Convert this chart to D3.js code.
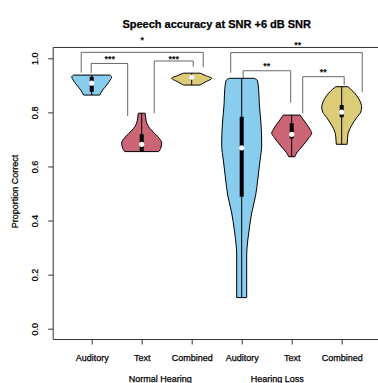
<!DOCTYPE html>
<html>
<head>
<meta charset="utf-8">
<script src="https://cdn.jsdelivr.net/npm/d3@7"></script>
<style>
  html, body { margin: 0; padding: 0; background: #fff; }
  svg { display: block; }
  text { font-family: "Liberation Sans", Arial, Helvetica, sans-serif; fill: #000; }
  .heavy { stroke: #000; stroke-width: 0.25px; }
</style>
</head>
<body>
<svg id="chart" width="378" height="383"></svg>
<script>
// ---- data ----
const title = "Speech accuracy at SNR +6 dB SNR";
const yAxisTitle = "Proportion Correct";
const categories = ["Auditory", "Text", "Combined", "Auditory", "Text", "Combined"];
const categoryKinds = ["aud", "txt", "comb", "aud", "txt", "comb"];
const groupNames = ["Normal Hearing", "Hearing Loss"];
const yTicks = [0.0, 0.2, 0.4, 0.6, 0.8, 1.0];

// kernel density profiles: [proportion correct, relative density]
const nhAuditoryDensity = [[0.938, 0.9], [0.931, 1.0], [0.920, 0.93], [0.901, 0.75], [0.883, 0.55], [0.864, 0.4]];
const nhTextDensity = [[0.797, 0.17], [0.781, 0.2], [0.761, 0.25], [0.753, 0.3], [0.741, 0.4], [0.722, 0.65],
                       [0.702, 0.9], [0.687, 1.0], [0.672, 0.97], [0.662, 0.92], [0.655, 0.85]];
const nhCombinedDensity = [[0.945, 0.42], [0.936, 0.7], [0.926, 1.0], [0.914, 0.72], [0.901, 0.42]];
const hlAuditoryDensity = [[0.926, 0.62], [0.918, 0.78], [0.883, 0.85], [0.831, 0.88], [0.753, 0.97], [0.679, 1.0],
                           [0.624, 0.92], [0.550, 0.8], [0.494, 0.7], [0.428, 0.5], [0.365, 0.37], [0.302, 0.27],
                           [0.273, 0.25], [0.115, 0.25]];
const hlTextDensity = [[0.790, 0.42], [0.776, 0.55], [0.756, 0.75], [0.737, 0.92], [0.723, 1.0], [0.707, 0.87],
                       [0.692, 0.72], [0.672, 0.5], [0.652, 0.27], [0.636, 0.15]];
const hlCombinedDensity = [[0.895, 0.3], [0.886, 0.45], [0.871, 0.65], [0.851, 0.85], [0.831, 0.97], [0.820, 1.0],
                           [0.801, 0.95], [0.781, 0.75], [0.761, 0.57], [0.741, 0.42], [0.722, 0.32], [0.702, 0.29],
                           [0.682, 0.27]];
const densities = [nhAuditoryDensity, nhTextDensity, nhCombinedDensity, hlAuditoryDensity, hlTextDensity, hlCombinedDensity];

// box summaries: whisker low, Q1, median, Q3, whisker high
const whiskerLow  = [0.864, 0.655, 0.901, 0.115, 0.636, 0.682];
const quartile1   = [0.876, 0.655, 0.922, 0.488, 0.704, 0.782];
const medians     = [0.908, 0.682, 0.930, 0.669, 0.719, 0.801];
const quartile3   = [0.932, 0.719, 0.936, 0.784, 0.760, 0.827];
const whiskerHigh = [0.938, 0.797, 0.945, 0.926, 0.790, 0.895];

// pairwise comparisons (positions in category units / proportion units)
const comparisons = [
  { from: 0.99, to: 1.72, level: 0.981, legFrom: 0.946, legTo: 0.787, labelAt: 1.36, labelLevel: 1.004, label: "***" },
  { from: 0.79, to: 3.23, level: 1.022, legFrom: 0.947, legTo: 0.967, labelAt: 2.01, labelLevel: 1.074, label: "*" },
  { from: 2.25, to: 3.03, level: 0.990, legFrom: 0.797, legTo: 0.969, labelAt: 2.64, labelLevel: 1.005, label: "***" },
  { from: 3.78, to: 6.41, level: 1.021, legFrom: 0.947, legTo: 0.876, labelAt: 5.12, labelLevel: 1.055, label: "**" },
  { from: 4.03, to: 4.98, level: 0.954, legFrom: 0.901, legTo: 0.836, labelAt: 4.50, labelLevel: 0.978, label: "**" },
  { from: 5.22, to: 6.05, level: 0.932, legFrom: 0.797, legTo: 0.901, labelAt: 5.63, labelLevel: 0.957, label: "**" }
];

// ---- styling & layout ----
const fills = { aud: "#88CCEE", txt: "#CC6677", comb: "#DDCC77" };
const groupLabelAt = [2.37, 4.71];

const svg = d3.select("#chart");

const x = d3.scaleLinear().domain([1, 6]).range([91.7, 341.7]);
const y = d3.scaleLinear().domain([0, 1]).range([328.7, 58.3]);
const halfWidth = d3.scaleLinear().domain([0, 1]).range([0, 20]);

const xLeft = x(0.23), xRight = x(6.77);
const yTop = y(1.04), yBottom = y(-0.04);

// title
svg.append("text")
  .attr("x", (xLeft + xRight) / 2).attr("y", 28)
  .attr("text-anchor", "middle")
  .attr("class", "heavy")
  .style("font-size", "11px").style("font-weight", "bold")
  .text(title);

// plot frame
svg.append("path")
  .attr("d", `M${xRight},${yTop}H${xLeft}V${yBottom}H${xRight}`)
  .attr("fill", "none").attr("stroke", "#333").attr("stroke-width", 1);

// y axis
const yAxis = svg.append("g")
  .attr("transform", `translate(${xLeft},0)`)
  .call(d3.axisLeft(y).tickValues(yTicks).tickSize(5).tickFormat(d3.format(".1f")));
yAxis.select(".domain").remove();
yAxis.selectAll(".tick line").attr("stroke", "#333");
yAxis.selectAll(".tick text")
  .attr("x", null).attr("dy", null)
  .attr("class", "heavy")
  .attr("transform", "translate(-18,0) rotate(-90)")
  .attr("text-anchor", "middle")
  .attr("dominant-baseline", "central")
  .style("font-size", "9px").style("font-family", "'Liberation Sans', Arial, sans-serif");

svg.append("text")
  .attr("transform", `translate(15,${y(0.5) - 2}) rotate(-90)`)
  .attr("text-anchor", "middle")
  .attr("dominant-baseline", "central")
  .attr("class", "heavy")
  .style("font-size", "9px")
  .text(yAxisTitle);

// x axis
const xAxis = svg.append("g")
  .attr("transform", `translate(0,${yBottom})`)
  .call(d3.axisBottom(x).tickValues(d3.range(1, 7)).tickSize(5).tickFormat((d) => categories[d - 1]));
xAxis.select(".domain").remove();
xAxis.selectAll(".tick line").attr("stroke", "#333");
xAxis.selectAll(".tick text")
  .attr("y", 18).attr("dy", "0.35em")
  .attr("class", "heavy")
  .style("font-size", "9px").style("font-family", "'Liberation Sans', Arial, sans-serif");

svg.selectAll("text.group")
  .data(groupNames)
  .join("text")
  .attr("class", "group heavy")
  .attr("x", (d, i) => x(groupLabelAt[i]))
  .attr("y", 379)
  .attr("text-anchor", "middle")
  .attr("dominant-baseline", "central")
  .style("font-size", "9px")
  .text((d) => d);

// comparison brackets
const brackets = svg.append("g");
brackets.selectAll("path")
  .data(comparisons)
  .join("path")
  .attr("d", (c) => `M${x(c.from)},${y(c.legFrom)}V${y(c.level)}H${x(c.to)}V${y(c.legTo)}`)
  .attr("fill", "none").attr("stroke", "#666").attr("stroke-width", 1);
brackets.selectAll("text")
  .data(comparisons)
  .join("text")
  .attr("class", "heavy")
  .attr("x", (c) => x(c.labelAt))
  .attr("y", (c) => y(c.labelLevel) + 5)
  .attr("text-anchor", "middle")
  .style("font-size", "9px")
  .text((c) => c.label);

// violins
const area = d3.area()
  .curve(d3.curveMonotoneY)
  .y((d) => y(d[0]));

const violins = svg.append("g");
densities.forEach((dens, i) => {
  const cx = x(i + 1);
  const g = violins.append("g");
  g.append("path")
    .datum(dens)
    .attr("d", area.x0((d) => cx - halfWidth(d[1])).x1((d) => cx + halfWidth(d[1])))
    .attr("fill", fills[categoryKinds[i]])
    .attr("stroke", "#000").attr("stroke-width", 1);
  // whisker
  g.append("line")
    .attr("x1", cx).attr("x2", cx)
    .attr("y1", y(whiskerLow[i])).attr("y2", y(whiskerHigh[i]))
    .attr("stroke", "#000").attr("stroke-width", 1);
  // interquartile box
  g.append("rect")
    .attr("x", cx - 2).attr("width", 4)
    .attr("y", y(quartile3[i])).attr("height", y(quartile1[i]) - y(quartile3[i]))
    .attr("fill", "#000");
  // median
  g.append("circle")
    .attr("cx", cx).attr("cy", y(medians[i])).attr("r", 2.6)
    .attr("fill", "#fff");
});
</script>
</body>
</html>
